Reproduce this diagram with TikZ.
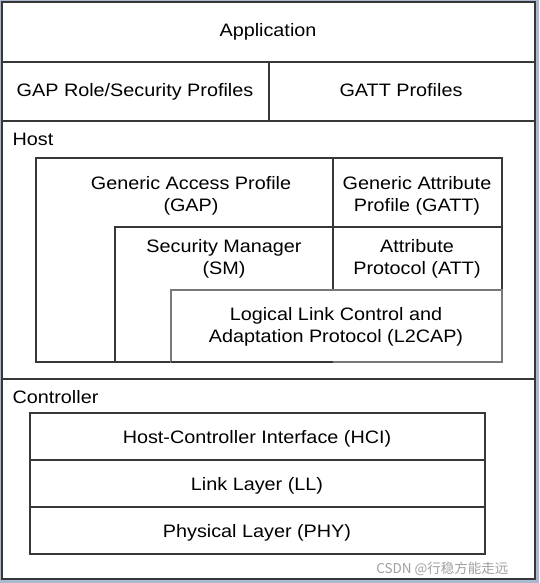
\documentclass[tikz,border=0pt]{standalone}
\usepackage{fontspec}
\setmainfont{Liberation Sans}[FakeStretch=1.1]
\newfontfamily\cjk{Noto Sans CJK SC}
\definecolor{framebg}{RGB}{170,184,208}
\definecolor{linegray}{RGB}{55,55,55}
\definecolor{lightline}{RGB}{120,120,120}
\definecolor{markgray}{RGB}{160,160,160}

\begin{document}
\begin{tikzpicture}[x=1pt, y=-1pt, line width=1.1pt,
  every node/.style={font=\fontsize{18}{22}\selectfont, inner sep=0pt}]

  \useasboundingbox (0,0) rectangle (539,583);
  \fill[framebg] (0,0) rectangle (539,583);

  % Outer frame and profile rows
  \draw[linegray, fill=white] (2,2) rectangle (535,579);
  \draw[linegray] (2,62) -- (535,62);
  \draw[linegray] (2,121) -- (535,121);
  \draw[linegray] (269,62) -- (269,121);
  \draw[linegray] (2,379) -- (535,379);

  % Host stack
  \draw[linegray] (36,158) rectangle (333,362);
  \draw[linegray] (333,158) rectangle (502,227);
  \draw[linegray] (115,227) rectangle (333,362);
  \draw[linegray] (333,227) rectangle (502,290);
  \draw[lightline, fill=white] (171,290) rectangle (502,362);
  \draw[linegray] (171,362) -- (333,362);

  % Controller stack
  \draw[linegray] (30,413) rectangle (485,554);
  \draw[linegray] (30,460) -- (485,460);
  \draw[linegray] (30,507) -- (485,507);

  \node[anchor=base] (app) at (268,37) {Application};
  \node[anchor=base] (gaprole) at (135,97) {GAP Role/Security Profiles};
  \node[anchor=base] (gattprof) at (401,97) {GATT Profiles};

  \node[anchor=base west] (host) at (12,146) {Host};
  \node[align=center] (gap) at (191,196) {Generic Access Profile\\(GAP)};
  \node[align=center] (gatt) at (417,196) {Generic Attribute\\Profile (GATT)};
  \node[align=center] (sm) at (224,259) {Security Manager\\(SM)};
  \node[align=center] (att) at (417,259) {Attribute\\Protocol (ATT)};
  \node[align=center] (l2cap) at (336,327) {Logical Link Control and\\Adaptation Protocol (L2CAP)};

  \node[anchor=base west] (ctrl) at (12,403) {Controller};
  \node[anchor=base] (hci) at (257,443) {Host-Controller Interface (HCI)};
  \node[anchor=base] (ll) at (257,490) {Link Layer (LL)};
  \node[anchor=base] (phy) at (257,537) {Physical Layer (PHY)};

  \node[anchor=east, text=markgray, font=\fontsize{13.5}{16}\cjk] (mark) at (509,569) {CSDN @行稳方能走远};

\end{tikzpicture}
\end{document}
